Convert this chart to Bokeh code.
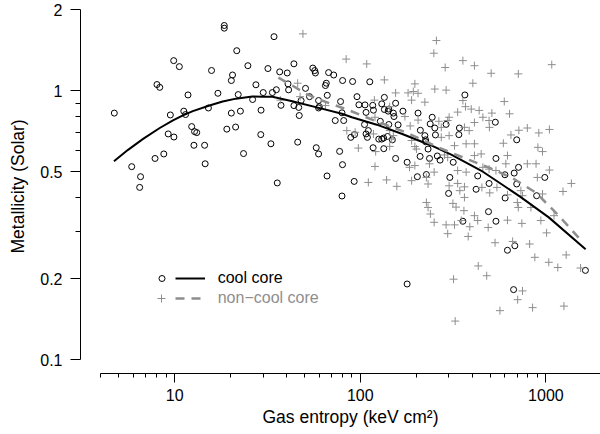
from bokeh.plotting import figure
from bokeh.models import (FixedTicker, CustomJSTickFormatter, Legend, LegendItem, Title)
from bokeh.embed import file_html
from bokeh.resources import INLINE

# ---------------- data ----------------
cc_entropy = [18.5, 18.5, 34.3, 21.6, 9.88, 10.6, 15.8, 24.8, 31.8, 43.9,
              20.5, 20.2, 8.03, 8.31, 11.8, 17.1, 22.0, 27.4, 30.0, 33.6,
              35.3, 26.3, 36.8, 40.4, 40.8, 41.1, 55.5, 56.8, 57.3, 67.5,
              71.9, 65.6, 64.9, 50.7, 53.3, 66.4, 48.0, 43.9, 46.6, 59.6,
              60.2, 59.6, 37.4, 29.2, 22.6, 20.2, 15.2, 11.2, 11.45, 9.48,
              4.73, 9.23, 9.91, 12.35, 12.8, 13.15, 19.1, 21.3, 29.1, 33.0,
              12.7, 14.5, 7.84, 8.74, 5.87, 6.55, 6.48, 14.6, 23.5, 35.7,
              46.0, 46.9, 57.9, 59.6, 66.2, 73.3, 77.4, 80.2, 79.7, 80.3,
              90.9, 112.5, 78.3, 79.7, 81.4, 96, 106, 116.7, 98.3, 107.4,
              117.7, 130.5, 134.8, 142.4, 141.3, 150.7, 155, 134.8, 169.7, 151.9,
              128.2, 142.4, 159.8, 105.4, 110.5, 107.4, 109.2, 93.1, 88.9, 125.8,
              130.5, 133.5, 140.2, 148.9, 117.2, 133.8, 92.7, 155, 178.8, 203,
              227, 210.7, 222.8, 204.7, 244, 238, 252, 254, 290, 224.7,
              225, 231.8, 260, 269, 210, 236, 316.7, 303.6, 299, 342,
              339.6, 366, 534, 538, 429, 420.6, 494, 601.6, 674.6, 696,
              712, 696, 891, 986, 603, 490.6, 538, 357, 620.6, 680,
              1632, 178.8, 669.6]
cc_metal = [1.75, 1.71, 1.59, 1.41, 1.295, 1.23, 1.19, 1.24, 1.21, 1.26,
            1.145, 1.092, 1.055, 1.03, 0.965, 0.979, 0.968, 1.053, 0.985, 0.985,
            1.009, 0.928, 1.176, 1.165, 1.061, 1.008, 1.215, 1.189, 1.165, 1.169,
            1.145, 1.067, 1.046, 1.021, 0.951, 0.962, 0.92, 0.881, 0.867, 0.92,
            0.873, 0.863, 0.883, 0.847, 0.84, 0.826, 0.863, 0.84, 0.816, 0.813,
            0.826, 0.691, 0.673, 0.736, 0.705, 0.699, 0.72, 0.733, 0.687, 0.635,
            0.627, 0.627, 0.56, 0.582, 0.522, 0.479, 0.437, 0.535, 0.584, 0.454,
            0.644, 0.809, 0.614, 0.582, 0.482, 0.775, 0.595, 0.531, 0.406, 1.092,
            1.083, 1.08, 0.912, 0.828, 0.775, 0.951, 0.886, 0.883, 0.887, 0.831,
            0.847, 0.894, 0.852, 0.855, 0.84, 0.826, 0.899, 0.945, 0.84, 0.802,
            0.77, 0.749, 0.747, 0.749, 0.711, 0.691, 0.671, 0.687, 0.671, 0.661,
            0.661, 0.667, 0.676, 0.657, 0.614, 0.609, 0.46, 0.56, 0.542, 0.479,
            0.488, 0.713, 0.681, 0.826, 0.797, 0.753, 0.727, 0.685, 0.75, 0.657,
            0.646, 0.607, 0.572, 0.552, 0.57, 0.56, 0.542, 0.476, 0.415, 0.727,
            0.687, 0.965, 0.764, 0.56, 0.482, 0.43, 0.452, 0.487, 0.494, 0.45,
            0.519, 0.657, 0.407, 0.476, 0.399, 0.355, 0.327, 0.327, 0.255, 0.265,
            0.2146, 0.191, 0.182]

ncc_entropy = [49.1, 46.0, 47.4, 37.1, 64.9, 257, 249, 83.9, 108.3, 286.6,
               357, 412, 507, 710, 1075, 134.8, 196.8, 404, 252, 290,
               155, 180.9, 193, 204.7, 119.1, 189, 222.8, 357, 596.5, 144,
               368.6, 396, 436.8, 334.6, 457.5, 511.5, 494, 637, 173.9, 204.7,
               185.7, 120, 301, 295.7, 412, 265, 273, 496, 715, 794,
               915.5, 1044, 364, 386, 84.6, 93.8, 144, 150.7, 117.7, 648,
               273, 589.6, 97.6, 121, 144, 147.6, 189, 196.8, 200.7, 321.7,
               371.7, 412, 905.5, 958.7, 1044, 284, 295.7, 412, 448, 620.6,
               608.5, 794, 884.8, 899, 1371, 1236, 120, 184.2, 196.8, 236,
               250, 334.6, 371.7, 457.5, 494, 538, 138.6, 110.5, 157.3, 227,
               231.8, 189, 334.6, 364, 498, 544.5, 620.6, 733, 748, 958.7,
               1105.6, 227, 231.8, 315.5, 328, 238.6, 343.6, 364, 361.6, 350,
               412, 429, 701.8, 710, 301, 250, 290, 321.7, 295.7, 381.5,
               389, 452, 488.7, 620.6, 742, 532, 661.6, 817, 871.5, 939,
               1008.5, 1036, 1158.6, 1286, 1537, 432, 479.8, 318, 748, 704.4,
               565.3, 847.5, 1250, 324.5, 830, 301]
ncc_metal = [1.629, 1.067, 0.951, 0.923, 0.881, 1.538, 1.38, 1.312, 1.259, 1.221,
             1.295, 1.24, 1.162, 1.156, 1.251, 1.098, 1.061, 1.067, 1.015, 1.006,
             0.982, 0.982, 0.994, 0.979, 0.923, 0.923, 0.907, 0.92, 0.912, 0.873,
             0.873, 0.855, 0.845, 0.833, 0.797, 0.826, 0.775, 0.821, 0.802, 0.778,
             0.74, 0.797, 0.797, 0.775, 0.762, 0.77, 0.731, 0.731, 0.713, 0.727,
             0.697, 0.718, 0.731, 0.711, 0.711, 0.701, 0.711, 0.681, 0.691, 0.685,
             0.671, 0.638, 0.612, 0.594, 0.621, 0.661, 0.653, 0.62, 0.607, 0.625,
             0.635, 0.635, 0.616, 0.594, 0.507, 0.577, 0.565, 0.574, 0.582, 0.574,
             0.535, 0.535, 0.535, 0.476, 0.452, 0.422, 0.523, 0.519, 0.527, 0.535,
             0.498, 0.505, 0.498, 0.519, 0.511, 0.505, 0.466, 0.456, 0.441, 0.476,
             0.45, 0.463, 0.452, 0.439, 0.417, 0.437, 0.41, 0.425, 0.407, 0.413,
             0.343, 0.384, 0.368, 0.381, 0.369, 0.348, 0.425, 0.401, 0.358, 0.329,
             0.343, 0.329, 0.384, 0.368, 0.443, 0.324, 0.317, 0.317, 0.294, 0.287,
             0.312, 0.437, 0.31, 0.33, 0.321, 0.272, 0.275, 0.269, 0.24, 0.329,
             0.296, 0.23, 0.22, 0.245, 0.219, 0.223, 0.205, 0.199, 0.18, 0.167,
             0.152, 0.156, 0.158, 0.139, 0.368, 0.681]

cc_fit_entropy = [4.71, 5.61, 6.76, 8.31, 9.79, 11.08, 12.53, 15.4, 18.14, 21.4,
                  26.2, 29.7, 33.6, 43.0, 59.8, 79.6, 90.1, 122.7, 167, 241,
                  309, 447, 572, 732, 1036, 1636]
cc_fit_metal = [0.547, 0.603, 0.662, 0.727, 0.776, 0.81, 0.84, 0.882, 0.912, 0.935,
                0.952, 0.951, 0.95, 0.915, 0.864, 0.821, 0.797, 0.748, 0.692, 0.626,
                0.579, 0.505, 0.451, 0.402, 0.338, 0.257]

ncc_fit_entropy = [36.2, 43.0, 51.8, 62.2, 84.7, 122.7, 177.7, 273, 386, 506,
                   665, 883, 1172, 1500]
ncc_fit_metal = [1.12, 1.046, 0.969, 0.92, 0.852, 0.769, 0.699, 0.609, 0.553, 0.514,
                 0.472, 0.418, 0.343, 0.284]

x_major_ticks = [10, 100, 1000]
x_minor_ticks = [4, 5, 6, 7, 8, 9, 20, 30, 40, 50, 60, 70, 80, 90,
                 200, 300, 400, 500, 600, 700, 800, 900]
y_major_ticks = [0.1, 0.2, 0.5, 1, 2]
y_minor_ticks = [0.3, 0.4, 0.6, 0.7, 0.8, 0.9]

FONT = "Liberation Sans"
GRAY = "#8e8e8e"

p = figure(width=600, height=434, x_axis_type="log", y_axis_type="log",
           x_range=(3.11, 1968), y_range=(0.0887, 2.1128),
           output_backend="svg", toolbar_location=None,
           min_border_left=77, min_border_right=0, min_border_top=3,
           min_border_bottom=61)
p.outline_line_color = None
p.xgrid.visible = False
p.ygrid.visible = False
p.background_fill_color = "white"
p.border_fill_color = "white"

fmt = "return String(tick);"
xa = p.xaxis[0]
xa.ticker = FixedTicker(ticks=x_major_ticks, minor_ticks=x_minor_ticks)
xa.formatter = CustomJSTickFormatter(code=fmt)
xa.bounds = (4, 2000)
xa.major_tick_out = 9
xa.major_tick_in = 0
xa.minor_tick_out = 4
xa.minor_tick_in = 0
xa.major_label_standoff = 6
ya = p.yaxis[0]
ya.ticker = FixedTicker(ticks=y_major_ticks, minor_ticks=y_minor_ticks)
ya.formatter = CustomJSTickFormatter(code=fmt)
ya.bounds = (0.1, 2)
ya.major_tick_out = 10
ya.major_tick_in = 0
ya.minor_tick_out = 5
ya.minor_tick_in = 0
ya.major_label_standoff = 8
for ax in (xa, ya):
    ax.axis_line_color = "black"
    ax.major_tick_line_color = "black"
    ax.minor_tick_line_color = "black"
    ax.major_label_text_font = FONT
    ax.major_label_text_font_size = "16px"
    ax.major_label_text_color = "black"

r_cc = p.scatter(cc_entropy, cc_metal, marker="circle", size=6,
                 fill_color=None, line_color="black", line_width=1)
r_ncc = p.scatter(ncc_entropy, ncc_metal, marker="cross", size=8,
                  line_color=GRAY, line_width=1)
r_cc_fit = p.line(cc_fit_entropy, cc_fit_metal, line_color="black", line_width=2)
r_ncc_fit = p.line(ncc_fit_entropy, ncc_fit_metal, line_color=GRAY,
                   line_width=2.5, line_dash="9 7")


def make_legend(renderer, label, loc, gw, color):
    return Legend(items=[LegendItem(label=label, renderers=[renderer])],
                  location=loc, glyph_width=gw, glyph_height=20, label_height=20,
                  padding=0, margin=0, spacing=0, label_standoff=13,
                  border_line_color=None, background_fill_color=None,
                  background_fill_alpha=0,
                  label_text_font=FONT, label_text_font_size="16px",
                  label_text_color=color)


p.add_layout(make_legend(r_cc, " ", (73.5, 85), 15, "black"))
p.add_layout(make_legend(r_cc_fit, "cool core", (94.7, 85), 30, "black"))
p.add_layout(make_legend(r_ncc, " ", (71, 65.3), 20, GRAY))
p.add_layout(make_legend(r_ncc_fit, "non\u2212cool core", (94.7, 65.3), 30, GRAY))

xt = Title(text="Gas entropy  (keV cm\u00b2)", align="left", offset=182,
           vertical_align="top", standoff=6, text_font=FONT,
           text_font_size="17.5px", text_font_style="normal", text_color="black")
p.add_layout(xt, "below")
yt = Title(text="Metallicity (Solar)", align="left", offset=120,
           vertical_align="top", standoff=15, text_font=FONT,
           text_font_size="17.5px", text_font_style="normal", text_color="black")
p.add_layout(yt, "left")

open("out.html", "w").write(file_html(p, INLINE))
